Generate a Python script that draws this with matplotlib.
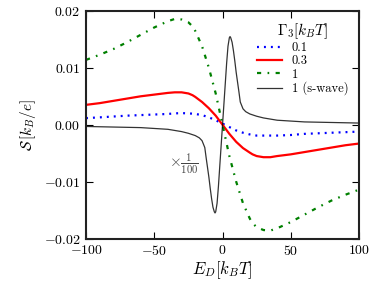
import numpy as np
import matplotlib
matplotlib.use('Agg')
import matplotlib.pyplot as plt

plt.rcParams['font.family'] = 'serif'
plt.rcParams['font.serif'] = ['cmr10']
plt.rcParams['mathtext.fontset'] = 'cm'
plt.rcParams['axes.formatter.use_mathtext'] = True
plt.rcParams['lines.scale_dashes'] = False

x_smooth = [-100, -90, -80, -70, -60, -50, -40, -35, -30, -25, -22, -20, -15, -10, -5, 0,
            5, 10, 15, 20, 22, 25, 30, 35, 40, 50, 60, 70, 80, 90, 100]
s_01 = [0.00117, 0.0013, 0.00145, 0.0016, 0.0017, 0.0018, 0.0019, 0.0020, 0.00205, 0.0020,
        0.00195, 0.0019, 0.0017, 0.0013, 0.0008, 0.0002,
        -0.0004, -0.0010, -0.0014, -0.0017, -0.0018, -0.0019, -0.0019, -0.0019, -0.0019,
        -0.0018, -0.0016, -0.0015, -0.0014, -0.0013, -0.0012]
s_03 = [0.0035, 0.0038, 0.0042, 0.0046, 0.0050, 0.0053, 0.0056, 0.0057, 0.0057, 0.0055,
        0.0052, 0.0049, 0.0040, 0.0029, 0.0016, 0.0,
        -0.0016, -0.0030, -0.0041, -0.0049, -0.0052, -0.0055, -0.0057, -0.0057, -0.0055,
        -0.0052, -0.0048, -0.0044, -0.0040, -0.0036, -0.0033]
s_1 = [0.0114, 0.0123, 0.0133, 0.0145, 0.0158, 0.0171, 0.0182, 0.0186, 0.0185, 0.0180,
       0.0173, 0.0165, 0.0138, 0.0100, 0.0055, 0.0,
       -0.0055, -0.0100, -0.0138, -0.0165, -0.0173, -0.0180, -0.0185, -0.0186, -0.0182,
       -0.0171, -0.0158, -0.0145, -0.0133, -0.0123, -0.0114]

x_swave = [-100, -80, -60, -40, -30, -25, -20, -17, -15, -13, -12, -11, -10, -9, -8, -7, -6,
           -5.5, -5, -4, -3, -2, -1, 0, 1, 2, 3, 4, 5, 5.5, 6, 7, 8, 9, 10, 11, 12, 13, 15,
           17, 20, 25, 30, 40, 60, 80, 100]
s_swave = [-0.0003, -0.0004, -0.0005, -0.0008, -0.0012, -0.0015, -0.0019, -0.0023, -0.0028,
           -0.0040, -0.0058, -0.0075, -0.0092, -0.0112, -0.0130, -0.0145, -0.0153,
           -0.0155, -0.0153, -0.0138, -0.0108, -0.0072, -0.0036, 0.0,
           0.0036, 0.0072, 0.0108, 0.0138, 0.0153, 0.0155, 0.0153, 0.0145, 0.0130, 0.0112,
           0.0092, 0.0075, 0.0058, 0.0040, 0.0028, 0.0023, 0.0019, 0.0015, 0.0012, 0.0008,
           0.0005, 0.0004, 0.0003]

fig = plt.figure(figsize=(3.74, 2.81), dpi=100)
ax = fig.add_axes([0.23, 0.151, 0.73, 0.81])

ax.plot(x_smooth, s_01, color='blue', lw=1.6, dashes=(1.4, 3.6), label='0.1')
ax.plot(x_smooth, s_03, color='red', linestyle='-', lw=1.6, label='0.3')
ax.plot(x_smooth, s_1, color='green', lw=1.6, dashes=(3.0, 4.6, 1.2, 4.6), label='1')
ax.plot(x_swave, s_swave, color='black', linestyle='-', lw=0.9, alpha=0.8,
        label='1 (s-wave)')

ax.text(-39, -0.0068, r'$\times\frac{1}{100}$', fontsize=11, va='center', ha='left',
        color='#444444')

ax.set_xlim(-100, 100)
ax.set_ylim(-0.02, 0.02)
ax.set_xticks([-100, -50, 0, 50, 100])
ax.set_yticks([-0.02, -0.01, 0.0, 0.01, 0.02])
ax.tick_params(direction='in', top=True, right=True, labelsize=10, pad=4, length=5)
for s in ax.spines.values():
    s.set_linewidth(1.5)
    s.set_color('#222222')

ax.set_xlabel(r'$E_D[k_BT]$', fontsize=12, labelpad=1)
ax.set_ylabel(r'$\mathcal{S}\,[k_B/e]$', fontsize=11, labelpad=4)

leg = ax.legend(title=r'$\Gamma_3[k_BT]$', loc='upper right', frameon=False,
                fontsize=9, title_fontsize=11, handlelength=2.0,
                borderaxespad=0.45, labelspacing=0.08)

fig.savefig('out.png', dpi=100)
